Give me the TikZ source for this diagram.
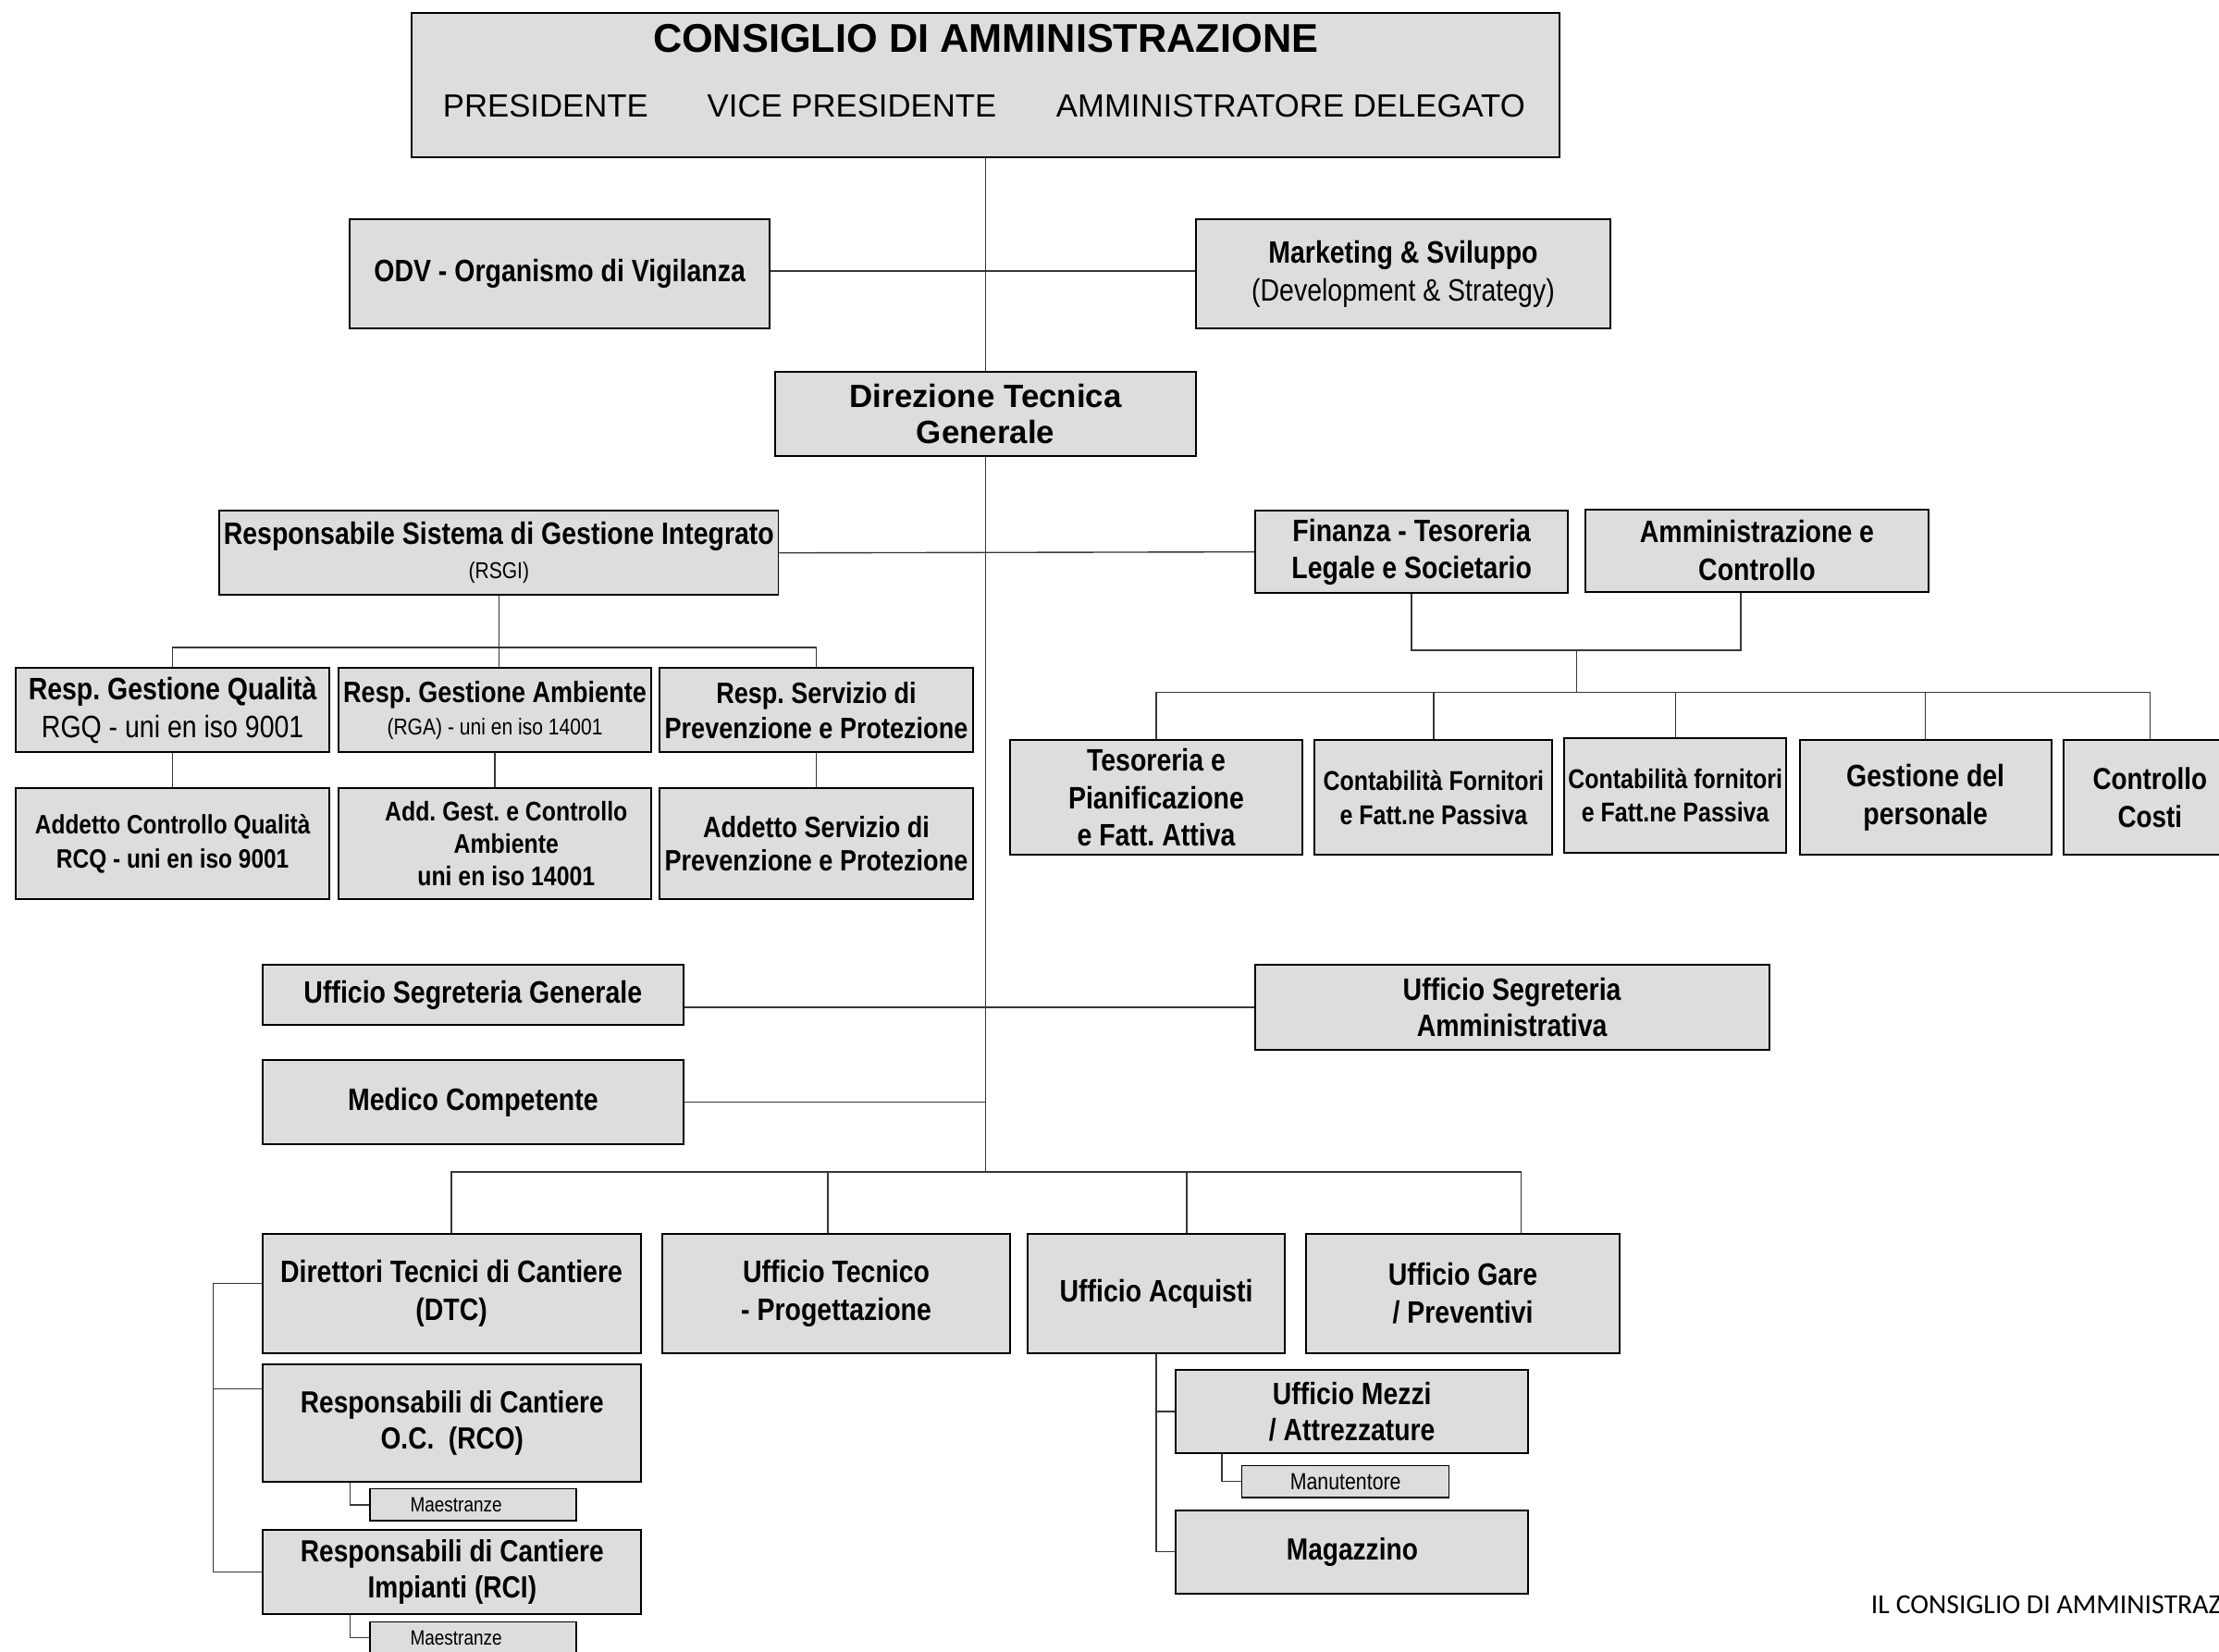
\documentclass[tikz,border=0pt]{standalone}
\usepackage{fontspec}
\setmainfont[FakeStretch=0.85]{Liberation Sans}
\newfontfamily\wide{Liberation Sans}
\newfontfamily\calib{Carlito}
\usetikzlibrary{backgrounds}
\definecolor{boxgray}{RGB}{221,221,221}
\definecolor{linegray}{RGB}{55,55,55}
\newcommand\fz[2]{\fontsize{#1}{#2}\selectfont}
\tikzset{
  box/.style={draw=black, line width=1.3pt, fill=boxgray, inner sep=1pt, align=center, text=black},
  wh/.style 2 args={minimum width=#1pt, minimum height=#2pt},
  conn/.style={draw=linegray, line width=0.9pt},
  lbl/.style={inner sep=0pt, text=black},
  smallbox/.style={box, line width=1pt},
}
\begin{document}
\frenchspacing
\begin{tikzpicture}[x=1pt,y=-1pt]
\useasboundingbox (0,0) rectangle (1568,1167);

% --- top
\node[box, wh={811}{102}] (cda) at (696.5,60) {};
\node[lbl, font=\wide\fz{28.3}{32}\bfseries] (cdat) at (696.5,27) {CONSIGLIO DI AMMINISTRAZIONE};
\node[lbl, font=\wide\fz{22.7}{26}] (pres) at (385.5,75) {PRESIDENTE};
\node[lbl, font=\wide\fz{22.7}{26}] (vpres) at (602,75) {VICE PRESIDENTE};
\node[lbl, font=\wide\fz{22.7}{26}] (ad) at (912,75) {AMMINISTRATORE DELEGATO};

\node[box, wh={297}{77}, font=\fz{21.9}{26}\bfseries] (odv) at (395.5,193.5) {ODV - Organismo di Vigilanza};
\node[box, wh={293}{77}, font=\fz{21.9}{27}] (mkt) at (991.5,193.5) {{\bfseries Marketing \& Sviluppo}\\(Development \& Strategy)};

\node[box, wh={297}{59}, font=\wide\fz{22.8}{26}\bfseries] (dtg) at (696.5,292.5) {Direzione Tecnica\\Generale};

% --- RSGI
\node[box, wh={395}{59.5}, font=\fz{21.9}{24}] (rsgi) at (352.5,390.7) {{\bfseries Responsabile Sistema di Gestione Integrato}\\{\fz{16.2}{24}(RSGI)}};
\node[box, wh={221.6}{59.6}, font=\fz{21.9}{27}] (rgq) at (122,501.8) {{\bfseries Resp. Gestione Qualità}\\RGQ - uni en iso 9001};
\node[box, wh={221.5}{59.6}, font=\fz{20.8}{23}] (rga) at (349.7,501.8) {{\bfseries Resp. Gestione Ambiente}\\{\fz{16.2}{23}(RGA) - uni en iso 14001}};
\node[box, wh={222}{59.6}, font=\fz{20.8}{25}\bfseries] (rsp) at (576.8,501.8) {Resp. Servizio di\\Prevenzione e Protezione};
\node[box, wh={221.6}{78.8}, font=\fz{18.8}{24}\bfseries] (acq) at (122,596.1) {Addetto Controllo Qualità\\RCQ - uni en iso 9001};
\node[box, wh={221.5}{78.8}, font=\fz{19.1}{23}\bfseries] (adg) at (349.7,596.1) {\hspace*{16pt}Add. Gest. e Controllo\\\hspace*{16pt}Ambiente\\\hspace*{16pt}uni en iso 14001};
\node[box, wh={222}{78.8}, font=\fz{20.8}{24}\bfseries] (asp) at (576.8,596.1) {Addetto Servizio di\\Prevenzione e Protezione};

% --- right
\node[box, wh={221}{58}, font=\fz{21.9}{26.5}\bfseries] (fin) at (997.5,390) {Finanza - Tesoreria\\Legale e Societario};
\node[box, wh={243}{58}, font=\fz{21.9}{26.5}\bfseries] (amm) at (1241.5,389) {Amministrazione e\\Controllo};
\node[box, wh={206}{81}, font=\fz{21.9}{26.5}\bfseries] (tes) at (817,563.5) {Tesoreria e\\Pianificazione\\e Fatt. Attiva};
\node[box, wh={168}{81}, font=\fz{19.2}{24}\bfseries] (cf1) at (1013,563.5) {Contabilità Fornitori\\e Fatt.ne Passiva};
\node[box, wh={156.5}{81}, font=\fz{19.2}{24}\bfseries] (cf2) at (1183.8,562) {Contabilità fornitori\\e Fatt.ne Passiva};
\node[box, wh={178}{81}, font=\fz{21.9}{26.5}\bfseries] (gdp) at (1360.6,563.5) {Gestione del\\personale};
\node[box, wh={121.6}{81}, font=\fz{21.4}{26.5}\bfseries] (cc) at (1519.2,563.5) {Controllo\\Costi};

% --- segreterie
\node[box, wh={297.7}{42}, font=\fz{21.9}{26}\bfseries] (usg) at (334.2,703) {Ufficio Segreteria Generale};
\node[box, wh={363.3}{60}, font=\fz{21.9}{26}\bfseries] (usa) at (1068.4,711.8) {Ufficio Segreteria\\Amministrativa};
\node[box, wh={297.7}{59.5}, font=\fz{21.9}{26}\bfseries] (med) at (334.2,778.8) {Medico Competente};

% --- bottom row
\node[box, wh={267.3}{84}, font=\fz{21.9}{27}\bfseries] (dtc) at (319,914) {Direttori Tecnici di Cantiere\\(DTC)};
\node[box, wh={245.7}{84}, font=\fz{21.9}{26.5}\bfseries] (utp) at (590.9,914) {Ufficio Tecnico\\- Progettazione};
\node[box, wh={181.2}{84}, font=\fz{21.9}{26.5}\bfseries] (uac) at (817,914) {Ufficio Acquisti};
\node[box, wh={221.6}{84}, font=\fz{21.9}{26.5}\bfseries] (ugp) at (1033.7,914) {Ufficio Gare\\/ Preventivi};

\node[box, wh={267.3}{82.8}, font=\fz{21.6}{25.5}\bfseries] (rco) at (319.5,1005.4) {Responsabili di Cantiere\\O.C.~~(RCO)};
\node[smallbox, wh={145.5}{22.5}, font=\fz{14.6}{16}] (m1) at (334.3,1063.3) {\hspace*{-24pt}Maestranze};
\node[box, wh={267.3}{59.7}, font=\fz{21.6}{25.5}\bfseries] (rci) at (319.5,1110.9) {Responsabili di Cantiere\\Impianti (RCI)};
\node[smallbox, wh={145.5}{22.5}, font=\fz{14.6}{16}] (m2) at (334.3,1157.3) {\hspace*{-24pt}Maestranze};

\node[box, wh={248.8}{59}, font=\fz{21.8}{26}\bfseries] (mez) at (955.4,997.5) {Ufficio Mezzi\\/ Attrezzature};
\node[smallbox, wh={146.4}{22.3}, font=\fz{16.4}{18}] (man) at (950.8,1046.9) {Manutentore};
\node[box, wh={249}{59}, font=\fz{21.6}{26}\bfseries] (mag) at (955.5,1096.5) {Magazzino};

\node[anchor=base west, inner sep=0pt, text=black, font=\calib\fz{19.5}{22}] (foot) at (1322,1140.5) {IL CONSIGLIO DI AMMINISTRAZIONE};

% --- connectors
\begin{scope}[on background layer]
\coordinate (tb) at (696.5,828);
\draw[conn] (cda.south) -- (tb);
\draw[conn] ([yshift=2pt]odv.east) -- ([yshift=2pt]mkt.west);
\draw[conn] (rsgi.east) -- (fin.west);

\coordinate (fa) at (1114,459.5);
\coordinate (rb) at (1114,489.3);
\draw[conn] (fin.south) |- (fa) -| ([xshift=-11.5pt]amm.south);
\draw[conn] (fa) -- (rb);
\draw[conn] (tes.north) |- (rb);
\draw[conn] (cc.north) |- (rb);
\draw[conn] (cf1.north) -- (cf1.north |- rb);
\draw[conn] (cf2.north) -- (cf2.north |- rb);
\draw[conn] (gdp.north) -- (gdp.north |- rb);

\coordinate (lb) at (352.5,457.5);
\draw[conn] (rsgi.south) -- (lb);
\draw[conn] (rgq.north) |- (lb);
\draw[conn] (rsp.north) |- (lb);
\draw[conn] (lb) -- (lb |- rga.north);
\draw[conn] (rgq.south) -- (acq.north);
\draw[conn] (rga.south) -- (adg.north);
\draw[conn] (rsp.south) -- (asp.north);

\draw[conn] (usa.west) -- (usa.west -| usg.east);
\draw[conn] (med.east) -- (med.east -| tb);

\coordinate (d2) at (585,828);
\coordinate (d3) at (838.6,828);
\coordinate (d4) at (1075,828);
\draw[conn] (dtc.north) |- (d4);
\draw[conn] (d2) -- (d2 |- utp.north);
\draw[conn] (d3) -- (d3 |- uac.north);
\draw[conn] (d4) -- (d4 |- ugp.north);

\coordinate (br1) at (150.5,907);
\coordinate (br2) at (150.5,981.5);
\draw[conn] (dtc.west |- br1) -- (br1) |- (rci.west);
\draw[conn] (br2) -- (br2 -| rco.west);
\draw[conn] ([xshift=-72pt]rco.south) |- (m1.west);
\draw[conn] ([xshift=-72pt]rci.south) |- (m2.west);

\draw[conn] (uac.south) |- (mag.west);
\draw[conn] (uac.south |- mez.west) -- (mez.west);
\draw[conn] ([xshift=-92pt]mez.south) |- (man.west);
\end{scope}
\end{tikzpicture}
\end{document}
